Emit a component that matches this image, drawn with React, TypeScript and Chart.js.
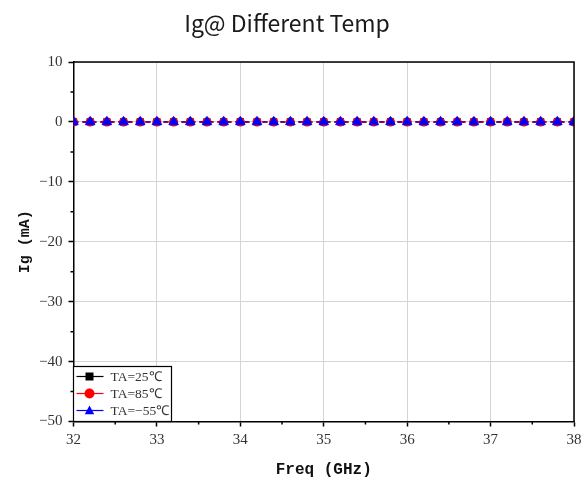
import React, { useEffect, useRef } from "react";
import { Chart, registerables } from "chart.js";

Chart.register(...registerables);

const TITLE = "Ig@ Different Temp";
const X_TITLE = "Freq (GHz)";
const Y_TITLE = "Ig (mA)";

const freqGHz = [
  32.0, 32.2, 32.4, 32.6, 32.8, 33.0, 33.2, 33.4, 33.6, 33.8, 34.0,
  34.2, 34.4, 34.6, 34.8, 35.0, 35.2, 35.4, 35.6, 35.8, 36.0,
  36.2, 36.4, 36.6, 36.8, 37.0, 37.2, 37.4, 37.6, 37.8, 38.0,
];

const ig25 = [
  0, 0, 0, 0, 0, 0, 0, 0, 0, 0, 0,
  0, 0, 0, 0, 0, 0, 0, 0, 0, 0,
  0, 0, 0, 0, 0, 0, 0, 0, 0, 0,
];
const ig85 = [
  0, 0, 0, 0, 0, 0, 0, 0, 0, 0, 0,
  0, 0, 0, 0, 0, 0, 0, 0, 0, 0,
  0, 0, 0, 0, 0, 0, 0, 0, 0, 0,
];
const igM55 = [
  0, 0, 0, 0, 0, 0, 0, 0, 0, 0, 0,
  0, 0, 0, 0, 0, 0, 0, 0, 0, 0,
  0, 0, 0, 0, 0, 0, 0, 0, 0, 0,
];

const seriesLabels = ["TA=25℃", "TA=85℃", "TA=-55℃"];
const legendLabels = ["TA=25℃", "TA=85℃", "TA=−55℃"];

const xMinorTicks = [32.5, 33.5, 34.5, 35.5, 36.5, 37.5];
const yMinorTicks = [5, -5, -15, -25, -35, -45];

const SERIF = "'Liberation Serif', 'Times New Roman', serif";

function drawMarker(ctx: CanvasRenderingContext2D, style: string, x: number, y: number, r: number, color: string) {
  ctx.save();
  ctx.fillStyle = color;
  ctx.beginPath();
  if (style === "rect") {
    ctx.rect(x - r * 0.8, y - r * 0.8, r * 1.6, r * 1.6);
  } else if (style === "circle") {
    ctx.arc(x, y, r, 0, Math.PI * 2);
  } else {
    ctx.moveTo(x, y - r);
    ctx.lineTo(x + r * 0.95, y + r * 0.75);
    ctx.lineTo(x - r * 0.95, y + r * 0.75);
    ctx.closePath();
  }
  ctx.fill();
  ctx.restore();
}

const framePlugin = {
  id: "frameAndExtras",
  afterDraw(chart: any) {
    const { ctx, chartArea, scales } = chart;
    const { left, right, top, bottom } = chartArea;
    ctx.save();
    ctx.strokeStyle = "#000";
    ctx.lineWidth = 1.5;
    ctx.beginPath();
    ctx.moveTo(left, top);
    ctx.lineTo(right, top);
    ctx.lineTo(right, bottom);
    ctx.stroke();
    ctx.lineWidth = 1.5;
    ctx.beginPath();
    for (const v of xMinorTicks) {
      const px = scales.x.getPixelForValue(v);
      ctx.moveTo(px, bottom);
      ctx.lineTo(px, bottom + 3);
    }
    for (const v of yMinorTicks) {
      const py = scales.y.getPixelForValue(v);
      ctx.moveTo(left, py);
      ctx.lineTo(left - 3, py);
    }
    ctx.stroke();

    const boxL = left;
    const boxR = left + 98;
    const boxT = bottom - 55;
    const boxB = bottom;
    ctx.fillStyle = "#fff";
    ctx.fillRect(boxL, boxT, boxR - boxL, boxB - boxT);
    ctx.strokeStyle = "#000";
    ctx.lineWidth = 1.2;
    ctx.strokeRect(boxL, boxT, boxR - boxL, boxB - boxT);
    const rows = [boxT + 10, boxT + 27, boxT + 44];
    chart.data.datasets.forEach((ds: any, i: number) => {
      const y = rows[i];
      ctx.strokeStyle = ds.borderColor;
      ctx.lineWidth = 1.2;
      ctx.setLineDash([]);
      ctx.beginPath();
      ctx.moveTo(boxL + 3, y);
      ctx.lineTo(boxL + 30, y);
      ctx.stroke();
      drawMarker(ctx, ds.pointStyle, boxL + 16, y, 5, ds.pointBackgroundColor);
      ctx.fillStyle = "#333";
      ctx.font = `13.5px ${SERIF}`;
      ctx.textAlign = "left";
      ctx.textBaseline = "middle";
      ctx.fillText(legendLabels[i], boxL + 37, y + 1);
    });
    ctx.restore();
  },
};

export default function App() {
  const ref = useRef<HTMLCanvasElement | null>(null);
  useEffect(() => {
    if (!ref.current) return;
    const mk = (data: number[]) => freqGHz.map((x, i) => ({ x, y: data[i] }));
    const chart = new Chart(ref.current, {
      type: "line",
      data: {
        datasets: [
          {
            label: seriesLabels[0],
            data: mk(ig25),
            borderColor: "#000000",
            backgroundColor: "#000000",
            pointBackgroundColor: "#000000",
            pointBorderColor: "#000000",
            pointStyle: "rect",
            pointRadius: 4,
            borderWidth: 1.5,
            borderDash: [5, 4],
            order: 2,
          },
          {
            label: seriesLabels[1],
            data: mk(ig85),
            borderColor: "#ff0000",
            backgroundColor: "#ff0000",
            pointBackgroundColor: "#ff0000",
            pointBorderColor: "#ff0000",
            pointStyle: "circle",
            pointRadius: 3.8,
            borderWidth: 1.5,
            borderDash: [5, 4],
            order: 1,
          },
          {
            label: seriesLabels[2],
            data: mk(igM55),
            borderColor: "#0000ff",
            backgroundColor: "#0000ff",
            pointBackgroundColor: "#0000ff",
            pointBorderColor: "#0000ff",
            pointStyle: "triangle",
            pointRadius: 5.5,
            borderWidth: 1,
            borderDash: [4, 5],
            order: 0,
          },
        ],
      } as any,
      options: {
        animation: false,
        responsive: false,
        layout: { padding: { left: 0, right: 13, top: 0, bottom: 0 } },
        plugins: {
          legend: { display: false },
          tooltip: { enabled: false },
          title: {
            display: true,
            text: TITLE,
            color: "#1a1a1a",
            font: { family: "'Noto Sans CJK SC', 'Noto Sans', sans-serif", size: 23, weight: "normal" },
            padding: { top: 9.5, bottom: 24.9 },
          },
        },
        scales: {
          x: {
            type: "linear",
            min: 32,
            max: 38,
            afterFit: (s: any) => { s.height = 62.5; },
            ticks: {
              stepSize: 1,
              color: "#333",
              padding: 5,
              font: { family: SERIF, size: 15 },
              maxRotation: 0,
            },
            grid: { color: "#d4d4d4", lineWidth: 1, tickLength: 5, tickColor: "#000", tickWidth: 1.5 } as any,
            border: { color: "#000", width: 1.5 },
            title: {
              display: true,
              text: X_TITLE,
              color: "#111",
              font: { family: "'Liberation Mono', monospace", size: 16, weight: "bold" },
              padding: { top: 0, bottom: 4.4 },
            },
          },
          y: {
            type: "linear",
            min: -50,
            max: 10,
            afterFit: (s: any) => { s.width = 73.5; },
            ticks: {
              stepSize: 10,
              color: "#333",
              padding: 6,
              font: { family: SERIF, size: 15 },
              callback: (v: any) => String(v).replace("-", "−"),
            },
            grid: { color: "#d4d4d4", lineWidth: 1, tickLength: 5, tickColor: "#000", tickWidth: 1.5 } as any,
            border: { color: "#000", width: 1.5 },
            title: {
              display: true,
              text: Y_TITLE,
              color: "#111",
              font: { family: "'Liberation Mono', monospace", size: 15, weight: "bold" },
              padding: { top: 16, bottom: 0 },
            },
          },
        },
      } as any,
      plugins: [framePlugin],
    });
    return () => chart.destroy();
  }, []);
  return (
    <div style={{ position: "fixed", left: 0, top: 0, width: 587, height: 484, background: "#fff" }}>
      <canvas ref={ref} width={587} height={484} style={{ display: "block" }} />
    </div>
  );
}
